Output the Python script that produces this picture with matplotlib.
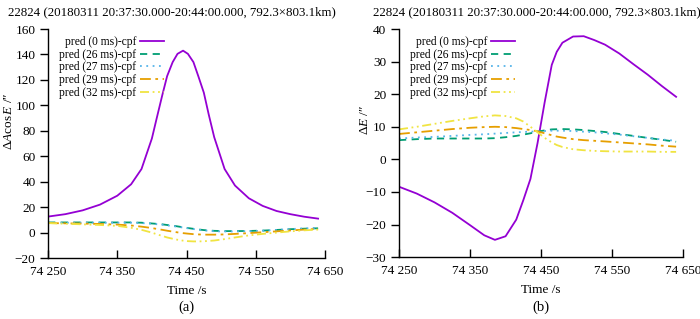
import numpy as np
import matplotlib
matplotlib.use("Agg")
import matplotlib.pyplot as plt
from matplotlib.ticker import FuncFormatter, MultipleLocator

plt.rcParams.update({'font.family': ['Liberation Serif', 'DejaVu Serif'],
                     'font.size': 9,
                     'mathtext.fontset': 'custom',
                     'mathtext.rm': 'Liberation Serif',
                     'mathtext.it': 'Liberation Serif:italic',
                     'axes.linewidth': 1.0})

title = "22824 (20180311 20:37:30.000-20:44:00.000, 792.3\u00d7803.1km)"
labels = ["pred (0 ms)-cpf", "pred (26 ms)-cpf", "pred (27 ms)-cpf",
          "pred (29 ms)-cpf", "pred (32 ms)-cpf"]
colors = ['#9400d3', '#009e73', '#56b4e9', '#e69f00', '#f0e442']
styles = ['-', (0, (4, 3)), (0, (1, 2.5)), (0, (6, 2.5, 1.5, 2.5)),
          (0, (5, 2, 1, 2, 1, 2))]

# panel (a): delta A cos E
t_a = [74250, 74275, 74300, 74325, 74350, 74370, 74385, 74400, 74407, 74415, 74422, 74430,
       74437, 74445, 74452, 74460, 74467, 74475, 74482, 74490, 74505, 74520, 74540, 74560,
       74580, 74600, 74620, 74640]
a_0 = [12.6, 14.5, 17.5, 22, 29, 38, 50, 74, 90, 108, 123, 134,
       140.5, 143, 140.5, 134, 123, 110, 93, 75, 50, 37, 27, 21,
       17, 14.5, 12.5, 11]
a_26 = [8, 8, 8, 8, 8, 8, 7.8, 7.2, 6.9, 6.5, 6.0, 5.5,
        4.9, 4.2, 3.6, 3, 2.5, 2, 1.7, 1.4, 1.2, 1.2, 1.3, 1.6,
        2.1, 2.7, 3.1, 3.4]
a_27 = [7.6, 7.8, 7.8, 7.8, 7.8, 7.8, 7.5, 7, 6.6, 6.2, 5.7, 5.2,
        4.6, 4, 3.4, 2.8, 2.3, 1.8, 1.4, 1.1, 0.9, 0.9, 1.1, 1.5,
        2.1, 2.8, 3.3, 3.7]
a_29 = [7.5, 7.3, 7.1, 6.8, 6.3, 5.6, 4.7, 3.6, 2.9, 2.2, 1.5, 0.8,
        0.2, -0.4, -0.8, -1.2, -1.4, -1.6, -1.6, -1.6, -1.4, -1.0, -0.4, 0.3,
        1.0, 1.7, 2.4, 2.9]
a_32 = [7.5, 7.0, 6.5, 6.0, 5.3, 3.8, 2.2, 0, -1.3, -2.6, -3.8, -4.8,
        -5.6, -6.3, -6.7, -6.9, -6.9, -6.8, -6.5, -6.2, -5.1, -3.8, -2.2, -1.0,
        0, 1.0, 1.8, 2.4]

# panel (b): delta E
t_b = [74250, 74275, 74300, 74325, 74350, 74370, 74385, 74400, 74415, 74425, 74435, 74445,
       74455, 74465, 74472, 74480, 74495, 74510, 74525, 74540, 74560, 74580, 74600, 74620,
       74640]
b_0 = [-8.4, -10.5, -13.2, -16.4, -20.2, -23.3, -24.7, -23.6, -18.5, -12.5, -6.0, 5.0,
       17.5, 29.0, 33.0, 35.8, 37.7, 37.8, 36.6, 35.2, 32.5, 29.2, 26.0, 22.5,
       19.2]
b_26 = [5.9, 6.2, 6.4, 6.4, 6.4, 6.4, 6.5, 6.8, 7.2, 7.6, 8.0, 8.5,
        8.9, 9.2, 9.25, 9.3, 9.2, 9.0, 8.7, 8.4, 7.8, 7.2, 6.6, 6.0,
        5.4]
b_27 = [6.4, 6.7, 6.9, 7.2, 7.5, 7.7, 7.9, 8.1, 8.3, 8.4, 8.5, 8.6,
        8.7, 8.8, 8.8, 8.8, 8.7, 8.5, 8.3, 8.0, 7.6, 7.1, 6.6, 6.1,
        5.7]
b_29 = [7.8, 8.3, 8.8, 9.3, 9.7, 9.9, 10.0, 9.9, 9.6, 9.3, 9.0, 8.6,
        8.0, 7.4, 7.0, 6.7, 6.2, 5.9, 5.7, 5.5, 5.2, 4.9, 4.6, 4.2,
        3.9]
b_32 = [9.2, 10.0, 10.9, 11.8, 12.6, 13.2, 13.5, 13.3, 12.6, 11.6, 10.0, 8.3,
        6.6, 5.2, 4.4, 3.8, 3.1, 2.8, 2.6, 2.5, 2.4, 2.4, 2.4, 2.3,
        2.3]

xticks = [74250, 74350, 74450, 74550, 74650]


def thousands(x, pos):
    s = f"{int(round(x))}"
    return s[:-3] + " " + s[-3:]


def style_ax(ax, ylim, ystep):
    ax.spines['top'].set_visible(False)
    ax.spines['right'].set_visible(False)
    ax.set_xlim(74250, 74650)
    ax.set_ylim(*ylim)
    ax.set_xticks(xticks)
    ax.xaxis.set_major_formatter(FuncFormatter(thousands))
    ax.yaxis.set_major_locator(MultipleLocator(ystep))
    ax.tick_params(axis='x', direction='in', length=6, width=1, pad=6, labelsize=9.5)
    ax.tick_params(axis='y', direction='out', length=6, width=1, pad=3, labelsize=9.5)
    ax.set_xlabel("Time /s", fontsize=9.5, labelpad=5)


fig = plt.figure(figsize=(7, 3.19), dpi=100)
ax1 = fig.add_axes([0.0686, 0.191, 0.3957, 0.718])
ax2 = fig.add_axes([0.570, 0.194, 0.406, 0.715])

for ys, lab, c, ls in zip([a_0, a_26, a_27, a_29, a_32], labels, colors, styles):
    ax1.plot(t_a, ys, color=c, linestyle=ls, lw=1.3, label=lab)
for ys, lab, c, ls in zip([b_0, b_26, b_27, b_29, b_32], labels, colors, styles):
    ax2.plot(t_b, ys, color=c, linestyle=ls, lw=1.3, label=lab)

style_ax(ax1, (-20, 160), 20)
style_ax(ax2, (-30, 40), 10)

ax1.set_ylabel(r"$\Delta A\cos E$" + " /\u2033", fontsize=9.5)
ax2.set_ylabel(r"$\Delta E$" + " /\u2033", fontsize=9.5)
ax1.yaxis.set_label_coords(-0.12, 0.6)
ax2.yaxis.set_label_coords(-0.10, 0.6)

for ax in (ax1, ax2):
    ax.legend(loc='upper left', bbox_to_anchor=(0.015, 1.0), frameon=False,
              markerfirst=False, fontsize=8.3, handlelength=2.1,
              handletextpad=0.3, labelspacing=0.06, borderaxespad=0.2)

fig.text(0.246, 0.962, title, ha='center', va='center', fontsize=9.3)
fig.text(0.767, 0.962, title, ha='center', va='center', fontsize=9.3)
fig.text(0.266, 0.038, "(a)", ha='center', va='center', fontsize=10.5)
fig.text(0.773, 0.038, "(b)", ha='center', va='center', fontsize=10.5)

fig.savefig("out.png", dpi=100)
